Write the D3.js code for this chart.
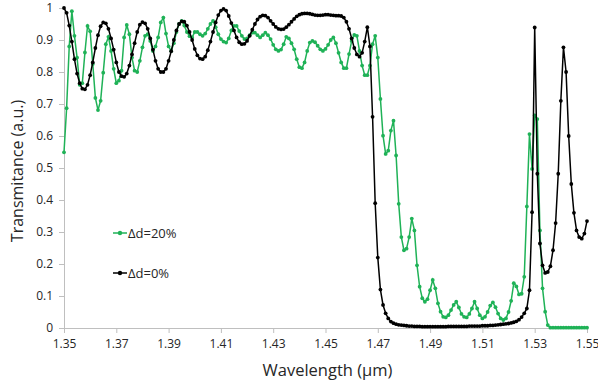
<!DOCTYPE html>
<html>
<head>
<meta charset="utf-8">
<script src="https://cdn.jsdelivr.net/npm/d3@7"></script>
<style>
  body { margin: 0; background: #fff; }
  text { font-family: "Open Sans", "Noto Sans", sans-serif; fill: #262626; }
</style>
</head>
<body>
<div id="chart"></div>
<script>
var startWl = 1.35;
var stepWl = 0.001;

// transmittance, one value every 0.001 um from 1.35 to 1.55
var t20 = [
  0.549, 0.687, 0.880, 0.990, 0.913, 0.845, 0.760, 0.765, 0.861, 0.944,
  0.927, 0.825, 0.719, 0.681, 0.710, 0.798, 0.887, 0.910, 0.866, 0.810,
  0.765, 0.773, 0.804, 0.908, 0.947, 0.918, 0.845, 0.804, 0.800, 0.835,
  0.877, 0.913, 0.918, 0.897, 0.866, 0.880, 0.908, 0.955, 0.970, 0.920,
  0.880, 0.866, 0.890, 0.925, 0.950, 0.960, 0.945, 0.925, 0.912, 0.908,
  0.925, 0.925, 0.918, 0.913, 0.920, 0.935, 0.950, 0.960, 0.940, 0.918,
  0.903, 0.895, 0.892, 0.905, 0.930, 0.944, 0.944, 0.928, 0.913, 0.903,
  0.905, 0.915, 0.923, 0.923, 0.915, 0.908, 0.915, 0.923, 0.915, 0.903,
  0.885, 0.871, 0.866, 0.870, 0.887, 0.910, 0.905, 0.890, 0.871, 0.840,
  0.815, 0.812, 0.830, 0.866, 0.892, 0.897, 0.893, 0.882, 0.871, 0.866,
  0.872, 0.885, 0.900, 0.908, 0.890, 0.860, 0.830, 0.812, 0.812, 0.856,
  0.897, 0.916, 0.913, 0.866, 0.820, 0.790, 0.790, 0.820, 0.887, 0.913,
  0.845, 0.716, 0.601, 0.544, 0.554, 0.617, 0.648, 0.539, 0.388, 0.284,
  0.243, 0.248, 0.284, 0.342, 0.305, 0.196, 0.129, 0.093, 0.082, 0.090,
  0.118, 0.150, 0.124, 0.077, 0.051, 0.035, 0.033, 0.040, 0.056, 0.072,
  0.082, 0.064, 0.044, 0.035, 0.033, 0.044, 0.061, 0.082, 0.061, 0.040,
  0.030, 0.035, 0.050, 0.070, 0.080, 0.065, 0.045, 0.030, 0.025, 0.030,
  0.050, 0.085, 0.140, 0.130, 0.105, 0.107, 0.160, 0.380, 0.606, 0.497,
  0.664, 0.653, 0.305, 0.124, 0.051, 0.009, 0.001, 0.001, 0.001, 0.001,
  0.001, 0.001, 0.001, 0.001, 0.001, 0.001, 0.001, 0.001, 0.001, 0.001,
  0.001
];

var t0 = [
  1.000, 0.985, 0.945, 0.895, 0.840, 0.795, 0.765, 0.748, 0.746, 0.760,
  0.790, 0.830, 0.875, 0.915, 0.943, 0.955, 0.952, 0.935, 0.905, 0.870,
  0.830, 0.800, 0.787, 0.785, 0.795, 0.820, 0.855, 0.890, 0.925, 0.948,
  0.956, 0.952, 0.935, 0.905, 0.870, 0.835, 0.810, 0.800, 0.800, 0.810,
  0.835, 0.865, 0.900, 0.930, 0.950, 0.958, 0.957, 0.945, 0.925, 0.900,
  0.872, 0.852, 0.842, 0.840, 0.848, 0.868, 0.895, 0.925, 0.955, 0.978,
  0.992, 0.997, 0.992, 0.975, 0.953, 0.930, 0.908, 0.893, 0.887, 0.888,
  0.897, 0.913, 0.932, 0.950, 0.964, 0.973, 0.977, 0.976, 0.970, 0.960,
  0.950, 0.941, 0.935, 0.933, 0.934, 0.940, 0.948, 0.957, 0.966, 0.974,
  0.979, 0.982, 0.983, 0.983, 0.982, 0.980, 0.978, 0.977, 0.977, 0.978,
  0.979, 0.979, 0.978, 0.977, 0.976, 0.976, 0.975, 0.970, 0.957, 0.935,
  0.905, 0.875, 0.855, 0.848, 0.860, 0.895, 0.940, 0.880, 0.660, 0.390,
  0.220, 0.120, 0.072, 0.046, 0.030, 0.020, 0.015, 0.012, 0.010, 0.009,
  0.008, 0.007, 0.006, 0.006, 0.005, 0.005, 0.005, 0.004, 0.004, 0.004,
  0.004, 0.004, 0.004, 0.004, 0.004, 0.004, 0.004, 0.005, 0.005, 0.005,
  0.005, 0.005, 0.005, 0.005, 0.005, 0.006, 0.006, 0.006, 0.006, 0.006,
  0.007, 0.007, 0.007, 0.008, 0.008, 0.009, 0.010, 0.011, 0.012, 0.013,
  0.014, 0.016, 0.018, 0.021, 0.026, 0.034, 0.046, 0.061, 0.118, 0.362,
  0.939, 0.482, 0.264, 0.196, 0.172, 0.175, 0.193, 0.243, 0.328, 0.482,
  0.710, 0.877, 0.800, 0.600, 0.450, 0.360, 0.305, 0.284, 0.279, 0.295,
  0.334
];

var xTicks = [1.35, 1.37, 1.39, 1.41, 1.43, 1.45, 1.47, 1.49, 1.51, 1.53, 1.55];
var yTicks = [0, 0.1, 0.2, 0.3, 0.4, 0.5, 0.6, 0.7, 0.8, 0.9, 1];
var seriesNames = ["\u0394d=20%", "\u0394d=0%"];
var seriesColors = ["#1fb257", "#000000"];

var svgWidth = 598;
var svgHeight = 387;
var margin = { top: 8, right: 11, bottom: 59, left: 64 };
var width = svgWidth - margin.left - margin.right;
var height = svgHeight - margin.top - margin.bottom;

var svg = d3.select("#chart")
  .append("svg")
  .attr("width", svgWidth)
  .attr("height", svgHeight);

var chartGroup = svg.append("g")
  .attr("transform", `translate(${margin.left},${margin.top})`);

var xScale = d3.scaleLinear().domain([1.35, 1.55]).range([0, width]);
var yScale = d3.scaleLinear().domain([0, 1]).range([height, 0]);

var bottomAxis = d3.axisBottom(xScale)
  .tickValues(xTicks)
  .tickFormat(d3.format(".2f"))
  .tickSizeInner(5).tickSizeOuter(0).tickPadding(6);
var leftAxis = d3.axisLeft(yScale)
  .tickValues(yTicks)
  .tickFormat(d => d === 0 || d === 1 ? String(d) : d3.format(".1f")(d))
  .tickSizeInner(5).tickSizeOuter(0).tickPadding(6);

var xAxis = chartGroup.append("g")
  .attr("transform", `translate(0, ${height})`)
  .call(bottomAxis);
var yAxis = chartGroup.append("g").call(leftAxis);

[xAxis, yAxis].forEach(function(ax) {
  ax.selectAll("path, line").attr("stroke", "#bfbfbf");
  ax.selectAll("text").attr("font-size", "12px").attr("fill", "#262626")
    .attr("font-family", "'Open Sans', sans-serif");
});

var series = [t20, t0].map(function(vals, k) {
  return {
    name: seriesNames[k],
    color: seriesColors[k],
    points: vals.map((v, i) => ({ wl: startWl + i * stepWl, t: v }))
  };
});

var line = d3.line().x(d => xScale(d.wl)).y(d => yScale(d.t));

// draw black after green so it sits on top where they cross
[series[0], series[1]].forEach(function(s) {
  var g = chartGroup.append("g");
  g.append("path")
    .datum(s.points)
    .attr("fill", "none")
    .attr("stroke", s.color)
    .attr("stroke-width", 1.5)
    .attr("d", line);
  g.selectAll("circle")
    .data(s.points)
    .enter()
    .append("circle")
    .attr("cx", d => xScale(d.wl))
    .attr("cy", d => yScale(d.t))
    .attr("r", 1.9)
    .attr("fill", s.color);
});

// legend
var legend = svg.append("g");
series.forEach(function(s, k) {
  var ly = 233 + k * 40;
  legend.append("line")
    .attr("x1", 113).attr("x2", 127)
    .attr("y1", ly).attr("y2", ly)
    .attr("stroke", s.color).attr("stroke-width", 1.5);
  legend.append("circle")
    .attr("cx", 120).attr("cy", ly).attr("r", 2.2)
    .attr("fill", s.color);
  legend.append("text")
    .attr("x", 128).attr("y", ly + 5)
    .attr("font-size", "13px")
    .text(s.name);
});

svg.append("text")
  .attr("transform", "rotate(-90)")
  .attr("x", -171)
  .attr("y", 23)
  .attr("text-anchor", "middle")
  .attr("font-size", "16px")
  .text("Transmitance (a.u.)");

svg.append("text")
  .attr("x", margin.left + width / 2 + 2)
  .attr("y", 376)
  .attr("text-anchor", "middle")
  .attr("font-size", "16.5px")
  .text("Wavelength (\u00b5m)");
</script>
</body>
</html>
